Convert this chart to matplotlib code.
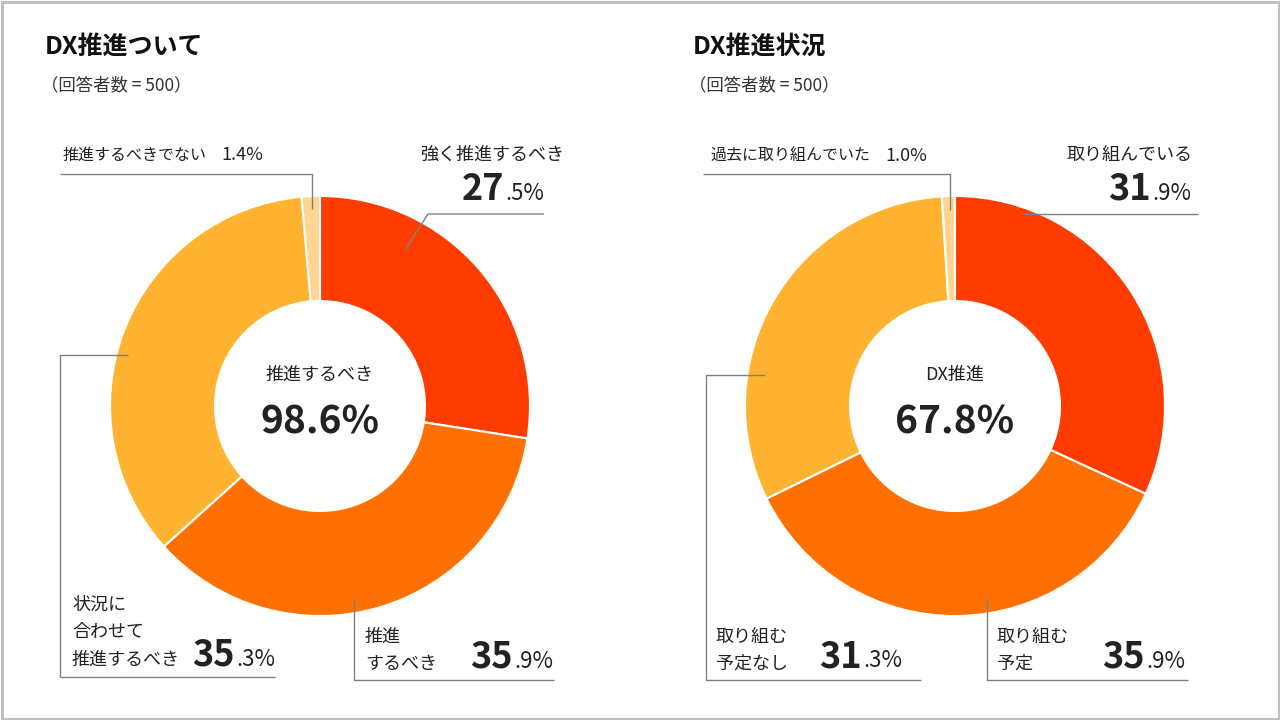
import matplotlib
matplotlib.use("Agg")
import matplotlib.pyplot as plt
from matplotlib.patches import Rectangle

plt.rcParams['font.family'] = ['Noto Sans CJK JP', 'DejaVu Sans']

# data
titles = ["DX推進ついて", "DX推進状況"]
subtitle = "（回答者数 = 500）"
labels1 = ["強く推進するべき", "推進するべき", "状況に合わせて推進するべき", "推進するべきでない"]
values1 = [27.5, 35.9, 35.3, 1.4]
center1_label = "推進するべき"
center1_value = 98.6
labels2 = ["取り組んでいる", "取り組む予定", "取り組む予定なし", "過去に取り組んでいた"]
values2 = [31.9, 35.9, 31.3, 1.0]
center2_label = "DX推進"
center2_value = 67.8
colors = ["#FF3C00", "#FF7000", "#FFB330", "#FFD591"]

TXT = "#222222"
LINE = "#808080"
LAB = 13

fig = plt.figure(figsize=(12.8, 7.2), dpi=100)
ax = fig.add_axes([0, 0, 1, 1])

R = 210
for cx, vals in [(320, values1), (955, values2)]:
    ax.pie(vals, colors=colors, center=(cx, 406), radius=R,
           startangle=-90, counterclock=True,
           wedgeprops=dict(width=R / 2, edgecolor="white", linewidth=1.5))

ax.set_xlim(0, 1280)
ax.set_ylim(720, 0)
ax.set_aspect("auto")
ax.axis("off")
ax.add_patch(Rectangle((1.5, 1.5), 1277, 717, fill=False, ec="#c0c0c0", lw=2.2))

renderer = fig.canvas.get_renderer()


def pct(x, y, val, big=26, small=16):
    ip, dp = f"{val:.1f}".split(".")
    t = ax.text(x, y, "." + dp + "%", ha="right", va="baseline",
                fontsize=small, color=TXT)
    w = t.get_window_extent(renderer=renderer).width
    ax.text(x - w - 1, y, ip, ha="right", va="baseline", fontsize=big,
            fontweight="bold", color=TXT)


def line(xs, ys):
    ax.plot(xs, ys, color=LINE, lw=1.0, solid_capstyle="butt")


# titles
for x0, t in zip([45, 693], titles):
    ax.text(x0, 54, t, fontsize=18, fontweight="bold", color="#111111", va="baseline")
    ax.text(x0 - 4, 90, subtitle, fontsize=12.5, color="#333333", va="baseline")

# center texts
for cx, lab, v in [(320, center1_label, center1_value), (955, center2_label, center2_value)]:
    ax.text(cx, 380, lab, fontsize=13, color=TXT, ha="center", va="baseline")
    ax.text(cx, 434, f"{v:.1f}%", fontsize=28, fontweight="bold", color=TXT,
            ha="center", va="baseline")

# left chart labels
ax.text(564, 160, labels1[0], fontsize=LAB, color=TXT, ha="right", va="baseline")
pct(544, 200, values1[0])
line([405, 428, 544], [250, 214, 214])

ax.text(63, 160, labels1[3], fontsize=11.5, color=TXT, va="baseline")
ax.text(263, 160, f"{values1[3]:.1f}%", fontsize=13, color=TXT, ha="right", va="baseline")
line([312, 312, 60], [209, 174, 174])

ax.text(72, 610, "状況に", fontsize=LAB, color=TXT, va="baseline")
ax.text(72, 637, "合わせて", fontsize=LAB, color=TXT, va="baseline")
ax.text(72, 665, "推進するべき", fontsize=LAB, color=TXT, va="baseline")
pct(275, 666, values1[2])
line([128, 60, 60, 275], [355, 355, 677, 677])

ax.text(365, 642, "推進", fontsize=LAB, color=TXT, va="baseline")
ax.text(365, 669, "するべき", fontsize=LAB, color=TXT, va="baseline")
pct(553, 668, values1[1])
line([354, 354, 554], [598, 680, 680])

# right chart labels
ax.text(1193, 160, labels2[0], fontsize=LAB, color=TXT, ha="right", va="baseline")
pct(1191, 200, values2[0])
line([1023, 1198], [214, 214])

ax.text(710, 161, labels2[3], fontsize=11.5, color=TXT, va="baseline")
ax.text(927, 161, f"{values2[3]:.1f}%", fontsize=13, color=TXT, ha="right", va="baseline")
line([950, 950, 703], [210, 174, 174])

ax.text(716, 642, "取り組む", fontsize=LAB, color=TXT, va="baseline")
ax.text(716, 669, "予定なし", fontsize=LAB, color=TXT, va="baseline")
pct(902, 667, values2[2])
line([765, 706, 706, 921], [375, 375, 680, 680])

ax.text(997, 642, "取り組む", fontsize=LAB, color=TXT, va="baseline")
ax.text(997, 669, "予定", fontsize=LAB, color=TXT, va="baseline")
pct(1185, 668, values2[1])
line([987, 987, 1188], [598, 680, 680])

fig.savefig("out.png", dpi=100)
